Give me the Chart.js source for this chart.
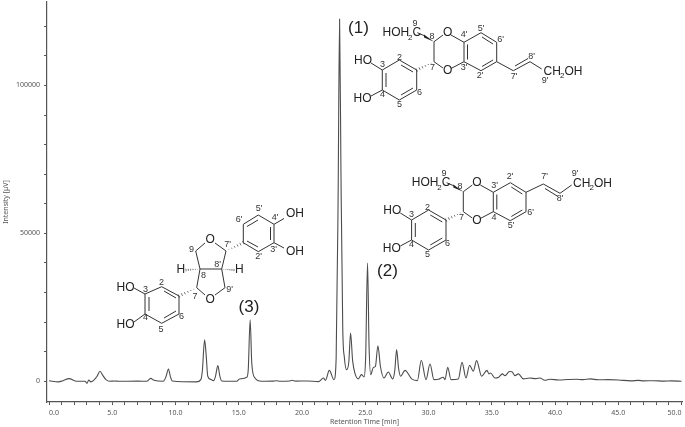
<!DOCTYPE html>
<html>
<head>
<meta charset="utf-8">
<title>Chromatogram</title>
<script src="https://cdn.jsdelivr.net/npm/chart.js@4"></script>
<style>
  html, body { margin: 0; padding: 0; background: #fff; }
  #wrap { width: 685px; height: 427px; }
</style>
</head>
<body>
<div id="wrap"><canvas id="hplc" width="685" height="427"></canvas></div>
<script>
const times = [0, 0.74, 1.1, 1.58, 2.19, 2.85, 3.0, 3.14, 3.3, 3.58, 3.8, 4.03, 4.25, 4.5, 4.8, 5.2, 5.5, 7.05, 7.72, 8.04, 8.3, 9.03, 9.25, 9.44, 9.6, 9.75,
  11.67, 12.0, 12.12, 12.3, 12.42, 12.55, 12.8, 13.0, 13.15, 13.35, 13.5, 13.65, 14.85, 15.05, 15.63, 15.75, 15.9, 16.03, 16.28, 16.8, 17.7, 17.95, 18.3, 19.0, 19.2, 19.5, 20.4, 21.3,
  21.7, 21.85, 22.16, 22.53, 22.7, 22.85, 22.97, 23.08, 23.22, 23.35, 23.53, 23.7, 23.84, 24.0, 24.2, 24.45, 24.7, 24.9, 25.03, 25.18, 25.3, 25.43, 25.64, 25.8, 26.0, 26.2, 26.48, 26.82, 27.17, 27.33, 27.48, 27.63, 27.8, 28.14, 28.67, 29.12, 29.43, 29.8, 30.12, 30.43, 30.8, 31.17, 31.3, 31.52, 31.78, 32.36, 32.65, 32.96, 33.25, 33.54, 33.8, 34.2, 34.62, 34.78, 34.9, 35.26, 35.55, 35.84, 36.05, 36.4, 36.6, 36.84, 37.1, 37.5, 38.0, 38.5, 38.8, 39.2, 39.6, 40.3, 41.0, 41.7, 42.2, 42.8, 43.4, 44.2, 45.0, 46.0, 46.6, 47.0, 47.8, 48.6, 49.2, 50.0];
const intensity = [200, -200, 200, 900, 0, 0, -700, 450, -200, 560, 1700, 3400, 2000, 560, 0, 100, 0, 50, 0, 1000, 340, 0, 1600, 4170, 1500, 100,
  -200, 560, 3500, 14000, 9000, 1700, 600, 220, 1500, 5300, 1800, 100, 0, 800, 1350, 4000, 20800, 6000, 1100, 0, 50, 200, 0, 100, 340, 50, 100, -100,
  1100, 300, 3700, 500, 8000, 60000, 122400, 70000, 18000, 8000, 3900, 6500, 16300, 7000, 2500, 800, 2250, 1460, 8000, 40000, 12000, 2250, 4700, 5000, 12000, 5000, 1100, 3150, 800, 3500, 10700, 4500, 1700, 3700, 800, 230, 7100, 560, 5850, 560, 700, 1350, 560, 4700, 560, 800, 6400, 1100, 5400, 3400, 7000, 1700, 3700, 2500, 2800, 1100, 1400, 2500, 1900, 3300, 3200, 1900, 2500, 800, 1100, 900, 1100, 340, 700, 450, 600, 700, 550, 800, 500, 550, 450, 150, 300, 150, 200, 50, 150, 0];
const xTickValues = [0, 1, 2, 3, 4, 5, 6, 7, 8, 9, 10, 11, 12, 13, 14, 15, 16, 17, 18, 19, 20, 21, 22, 23, 24, 25, 26, 27, 28, 29, 30, 31, 32, 33, 34, 35, 36, 37, 38, 39, 40, 41, 42, 43, 44, 45, 46, 47, 48, 49, 50];
const yTickValues = [0, 10000, 20000, 30000, 40000, 50000, 60000, 70000, 80000, 90000, 100000, 110000, 120000];
const xLabelStep = 5;
const yLabelStep = 50000;

// Dibuja una estructura: enlaces, etiquetas de atomos y numeros
function bonds(ctx, list, dx, dy) {
  ctx.strokeStyle = '#333';
  ctx.lineWidth = 1;
  list.forEach(b => {
    ctx.beginPath();
    ctx.moveTo(b[0] + dx, b[1] + dy);
    ctx.lineTo(b[2] + dx, b[3] + dy);
    ctx.stroke();
  });
}
function wedge(ctx, x1, y1, x2, y2) {
  ctx.fillStyle = '#222';
  ctx.beginPath();
  ctx.moveTo(x1, y1);
  ctx.lineTo(x2, y2 - 1.5);
  ctx.lineTo(x2, y2 + 1.5);
  ctx.fill();
}
function hash(ctx, x1, y1, x2, y2) {
  ctx.strokeStyle = '#333';
  ctx.lineWidth = 0.7;
  for (let i = 1; i <= 6; i++) {
    const t = i / 6;
    const x = x1 + (x2 - x1) * t, y = y1 + (y2 - y1) * t;
    const nx = -(y2 - y1) * 0.09 * t, ny = (x2 - x1) * 0.09 * t;
    ctx.beginPath();
    ctx.moveTo(x - nx, y - ny);
    ctx.lineTo(x + nx, y + ny);
    ctx.stroke();
  }
}
function atoms(ctx, list, dx, dy) {
  ctx.fillStyle = '#222';
  ctx.font = '12px "Liberation Sans"';
  ctx.textAlign = 'left';
  ctx.textBaseline = 'middle';
  list.forEach(a => ctx.fillText(a[0], a[1] + dx, a[2] + dy));
}
function nums(ctx, list) {
  ctx.fillStyle = '#333';
  ctx.font = '9px "Liberation Sans"';
  ctx.textAlign = 'center';
  ctx.textBaseline = 'middle';
  list.forEach(a => ctx.fillText(a[0], a[1], a[2]));
}

// Parte comun de (1) y (2): catecol + dioxano + anillo B
const sharedBonds = [
  [382.3, 70, 382.3, 90], [382.3, 90, 399.3, 100], [399.3, 100, 416.7, 90], [416.7, 90, 416.7, 70], [416.7, 70, 399.3, 60], [399.3, 60, 382.3, 70],
  [386, 73, 386, 87], [401, 95, 413, 88], [401, 65, 413, 72],
  [382.3, 70, 371, 63], [382.3, 90, 371, 96],
  [434, 61.7, 434, 41.7], [434, 41.7, 443, 35], [451, 35, 464, 42.3], [434, 61.7, 443, 68], [451, 68.5, 464, 61.7],
  [464, 42.3, 464, 61.7], [467.5, 44.5, 467.5, 59.5],
  [464, 42.3, 481, 32.7], [481, 32.7, 496.7, 42.3], [496.7, 42.3, 496.7, 61.7], [496.7, 61.7, 481, 70.7], [481, 70.7, 464, 61.7],
  [482, 37, 493, 44], [493, 60, 482, 66.5],
  [417.3, 32.7, 425, 36]
];
const sharedAtoms = [['HO', 354, 61], ['HO', 353.5, 98.5], ['O', 443, 33], ['O', 443, 70.5]];

function hoh2c(ctx, dx, dy) {
  ctx.fillStyle = '#222';
  ctx.font = '12px "Liberation Sans"';
  ctx.textAlign = 'left';
  ctx.textBaseline = 'middle';
  ctx.fillText('HOH', 382.5 + dx, 33 + dy);
  ctx.font = '8px "Liberation Sans"';
  ctx.fillText('2', 408 + dx, 38 + dy);
  ctx.font = '12px "Liberation Sans"';
  ctx.fillText('C', 412.5 + dx, 33 + dy);
}
function ch2oh(ctx, x, y) {
  ctx.fillStyle = '#222';
  ctx.font = '12px "Liberation Sans"';
  ctx.textAlign = 'left';
  ctx.textBaseline = 'middle';
  ctx.fillText('CH', x, y);
  ctx.font = '8px "Liberation Sans"';
  ctx.fillText('2', x + 16.5, y + 4);
  ctx.font = '12px "Liberation Sans"';
  ctx.fillText('OH', x + 21, y);
}

const structures = {
  id: 'structures',
  afterDraw(chart) {
    const ctx = chart.ctx;
    ctx.save();

    // (1)
    bonds(ctx, sharedBonds, 0, 0);
    bonds(ctx, [[496.7, 61.7, 513.3, 70.7], [513.3, 70.7, 530, 61.7], [515, 66, 528, 58.5], [530, 61.7, 541.7, 69]], 0, 0);
    wedge(ctx, 434, 41.7, 424, 36);
    hash(ctx, 434, 61.7, 416.7, 70);
    atoms(ctx, sharedAtoms, 0, 0);
    hoh2c(ctx, 0, 0);
    ch2oh(ctx, 543.5, 72);
    nums(ctx, [['9', 415, 23.5], ['8', 432, 36.5], ['7', 432.5, 67.5], ["4'", 464, 35], ["3'", 464, 67.5], ["5'", 481, 28.5], ["6'", 500.5, 39.5], ["2'", 480, 76], ["7'", 514, 77], ["8'", 531.5, 56.5], ["9'", 545, 81], ['3', 382.5, 65], ['4', 382.5, 95], ['2', 399.5, 57.5], ['6', 419.5, 92.5], ['5', 399.5, 104.5]]);

    // (2)
    bonds(ctx, sharedBonds, 29.3, 150);
    bonds(ctx, [[526, 192.3, 543.3, 184], [543.3, 184, 560, 193.3], [545, 188.5, 558, 196.5], [560, 193.3, 571.7, 185]], 0, 0);
    wedge(ctx, 463.3, 191.7, 453.3, 186);
    hash(ctx, 463.3, 211.7, 446, 220);
    atoms(ctx, sharedAtoms, 29.3, 150);
    hoh2c(ctx, 29.3, 150);
    ch2oh(ctx, 573, 184);
    nums(ctx, [['9', 444, 173.5], ['8', 460, 186.5], ['7', 461.5, 217.5], ["3'", 494.5, 186], ['4', 494, 217.5], ["2'", 510, 176.5], ["6'", 530.5, 213], ["5'", 511, 226], ["7'", 544.5, 176.5], ["8'", 560, 199], ["9'", 575, 174], ['3', 411.5, 215], ['4', 411.5, 245], ['2', 427.5, 207.5], ['6', 447.5, 243.5], ['5', 427.5, 255]]);

    // (3)
    bonds(ctx, [
      [145, 294, 145, 314], [145, 314, 161.7, 323.3], [161.7, 323.3, 179, 314], [179, 314, 179, 296], [179, 296, 161.7, 286.7], [161.7, 286.7, 145, 294],
      [149, 297, 149, 311], [164, 318, 176, 311], [164, 291, 176, 298],
      [145, 294, 134, 288], [145, 314, 134, 322],
      [196.7, 287.7, 205, 295], [215, 295, 225, 287.7], [225, 287.7, 221.7, 269], [221.7, 269, 200, 269], [200, 269, 196.7, 287.7],
      [200, 269, 195.7, 251], [195.7, 251, 205, 243], [215, 243, 226, 251], [226, 251, 221.7, 269],
      [243.3, 242.7, 243.3, 224.3], [243.3, 224.3, 258.3, 215], [258.3, 215, 274, 224.3], [274, 224.3, 274, 242.7], [274, 242.7, 258.3, 251.7], [258.3, 251.7, 243.3, 242.7],
      [247, 226.5, 258, 220], [270.5, 227, 270.5, 240], [258, 247, 247, 241],
      [274, 224.3, 284, 218.5], [274, 242.7, 284, 248]
    ], 0, 0);
    hash(ctx, 196.7, 287.7, 179, 296);
    hash(ctx, 226, 251, 243.3, 242.7);
    hash(ctx, 200, 269, 186, 270);
    hash(ctx, 221.7, 269, 234, 270);
    atoms(ctx, [['HO', 116.5, 287.5], ['HO', 116.5, 325], ['O', 205.5, 300], ['O', 205.5, 240], ['H', 176.5, 270], ['H', 235, 270], ['OH', 286, 213.5], ['OH', 286, 252]], 0, 0);
    nums(ctx, [['3', 145.5, 290], ['4', 145.5, 318], ['2', 161.5, 283], ['6', 181.5, 316.5], ['5', 161, 330], ['7', 195, 296.5], ['8', 203.5, 276], ['9', 191.5, 250], ["9'", 229.5, 290], ["8'", 217.5, 265], ["7'", 227.5, 245], ["6'", 239, 219.5], ["5'", 259, 208.5], ["4'", 275, 217.5], ["3'", 273.5, 250], ["2'", 258.5, 256.5]]);

    // Etiquetas de picos
    ctx.fillStyle = '#222';
    ctx.font = '17px "Liberation Sans"';
    ctx.textAlign = 'center';
    ctx.textBaseline = 'middle';
    ctx.fillText('(1)', 358.5, 28.5);
    ctx.fillText('(2)', 387.5, 271);
    ctx.fillText('(3)', 249, 307);

    ctx.restore();
  }
};

const axisFont = { family: '"Noto Sans"', size: 7 };
const axisText = '#555';

new Chart(document.getElementById('hplc').getContext('2d'), {
  type: 'line',
  data: {
    datasets: [{
      data: times.map((t, i) => ({ x: t, y: intensity[i] })),
      borderColor: '#4d4d4d',
      borderWidth: 1.1,
      pointRadius: 0,
      cubicInterpolationMode: 'monotone',
      fill: false
    }]
  },
  options: {
    responsive: false,
    animation: false,
    layout: { padding: { top: 2, right: 3, left: 0, bottom: 1 } },
    plugins: { legend: { display: false }, tooltip: { enabled: false } },
    scales: {
      x: {
        type: 'linear',
        min: -0.16,
        max: 50.04,
        afterBuildTicks: s => { s.ticks = xTickValues.map(value => ({ value })); },
        afterFit: s => { s.height = 24; s.paddingLeft = 0; s.paddingRight = 0; },
        grid: { drawOnChartArea: false, tickLength: 3, tickColor: '#555' },
        border: { color: '#555', width: 1.2 },
        ticks: {
          autoSkip: false,
          maxRotation: 0,
          align: 'inner',
          padding: 4,
          color: axisText,
          font: axisFont,
          callback: v => (v % xLabelStep === 0 ? v.toFixed(1) : '')
        },
        title: { display: true, text: 'Retention Time [min]', color: axisText, font: axisFont, padding: 0 }
      },
      y: {
        min: -7000,
        max: 128200,
        afterBuildTicks: s => { s.ticks = yTickValues.map(value => ({ value })); },
        afterFit: s => { s.width = 47; s.paddingTop = 0; s.paddingBottom = 0; },
        grid: { drawOnChartArea: false, tickLength: 3, tickColor: '#555' },
        border: { color: '#555', width: 1.2 },
        ticks: {
          autoSkip: false,
          padding: 4,
          color: axisText,
          font: axisFont,
          callback: v => (v % yLabelStep === 0 ? String(v) : '')
        },
        title: { display: true, text: 'Intensity [µV]', color: axisText, font: axisFont, padding: 2 }
      }
    }
  },
  plugins: [structures]
});
</script>
</body>
</html>
